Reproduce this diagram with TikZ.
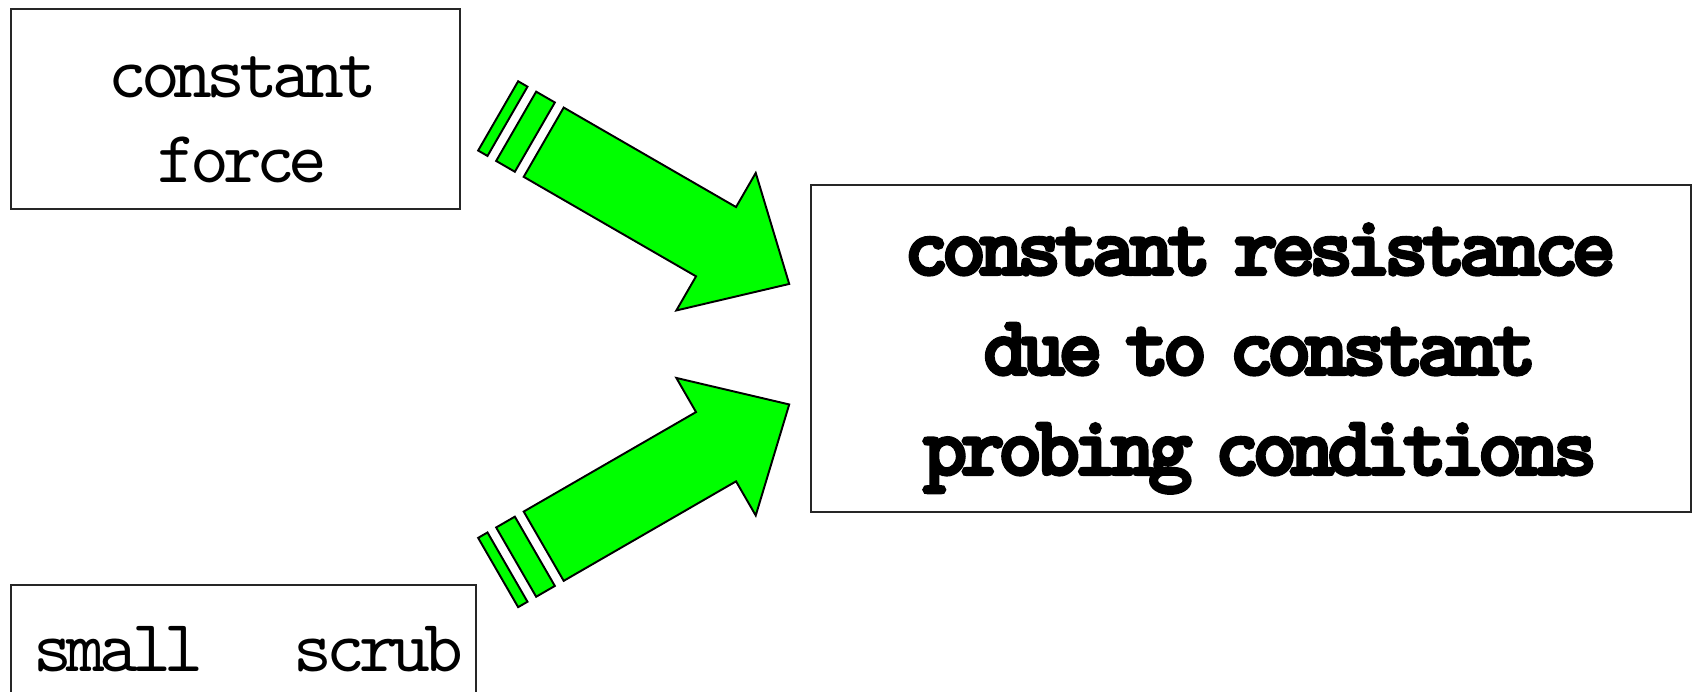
\documentclass[tikz,border=0pt]{standalone}
\usepackage{fontspec}
\newfontfamily\boxfont[LetterSpace=-8, BoldFont=lmmonolt10-bold.otf,
  BoldFeatures={FakeBold=3.5, LetterSpace=-8, WordSpace=0.6}]{lmmono10-regular.otf}
\usetikzlibrary{positioning}
\definecolor{arrowgreen}{RGB}{0,255,0}

\tikzset{
  box/.style={draw=black!85, line width=0.8pt, inner sep=0pt},
  lighttext/.style={font=\boxfont\fontsize{42}{48.4}\selectfont, inner sep=0pt},
  boldtext/.style={font=\boxfont\bfseries\fontsize{48}{56.9}\selectfont, inner sep=0pt},
  arrowfill/.style={draw=black, fill=arrowgreen, line width=1.1pt, line join=miter},
  pics/stripearrow/.style={code={
      \draw[arrowfill] (-52.6,-40) rectangle (-41.8,40);
      \draw[arrowfill] (-31.8,-40) rectangle (-10.2,40);
      \draw[arrowfill] (0,-40) -- (199,-40) -- (199,-79.4) -- (283.5,0)
        -- (199,79.4) -- (199,40) -- (0,40) -- cycle;
    }},
}

\begin{document}
\begin{tikzpicture}[x=0.2mm, y=-0.2mm]
  \clip (0,0) rectangle (1696,692);

  % left boxes
  \node[box, minimum width=89.8mm, minimum height=40mm] (force) at (235.5,109) {};
  \node[lighttext, align=center] (forcetext) at ([xshift=1.4mm, yshift=-2.2mm]force.center)
        {constant\\force};
  \node[box, minimum width=93mm, minimum height=26mm] (scrub) at (243.5,650) {};
  \node[lighttext] (scrubtext) at ([xshift=1mm, yshift=0.2mm]scrub.center)
        {\makebox[86mm]{small\hfill scrub}};

  % result box
  \node[box, minimum width=176mm, minimum height=65.4mm] (result) at (1251,348.5) {};
  \node[boldtext, align=center] (resulttext) at ([xshift=1.8mm, yshift=-2mm]result.center)
        {constant resistance\\due to constant\\probing conditions};

  % fat arrows
  \coordinate (tail1) at (543.7,142.2);
  \coordinate (tail2) at (543.7,546.2);
  \pic[rotate=-30] at (tail1) {stripearrow};
  \pic[rotate=30] at (tail2) {stripearrow};
\end{tikzpicture}
\end{document}
